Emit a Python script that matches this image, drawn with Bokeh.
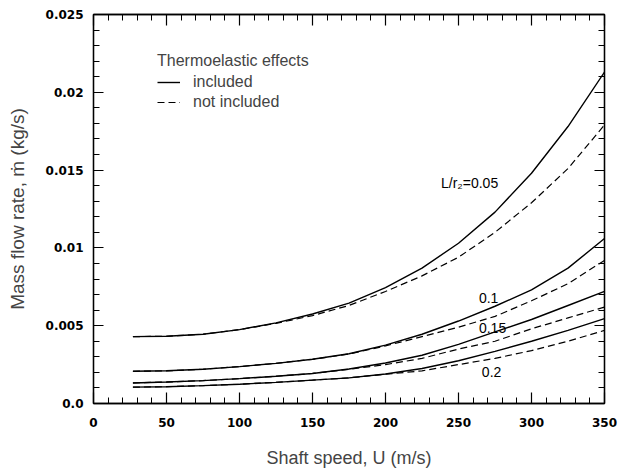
from bokeh.plotting import figure
from bokeh.models import (Range1d, FixedTicker, LinearAxis, Legend, LegendItem, Label)
from bokeh.embed import file_html
from bokeh.resources import INLINE

# ---- data ----
U = [27, 50, 75, 100, 125, 150, 175, 200, 225, 250, 275, 300, 325, 350]

m005_incl = [0.00430, 0.00432, 0.00445, 0.00475, 0.00518, 0.00575, 0.00645, 0.00745, 0.00870, 0.0103, 0.0123, 0.0148, 0.0178, 0.0213]
m005_not  = [0.00430, 0.00432, 0.00445, 0.00475, 0.00515, 0.00565, 0.00630, 0.00720, 0.00820, 0.0094, 0.0110, 0.0129, 0.0151, 0.0179]

m010_incl = [0.00207, 0.00210, 0.00220, 0.00237, 0.00258, 0.00284, 0.00320, 0.00375, 0.00445, 0.00530, 0.00625, 0.00730, 0.00870, 0.0106]
m010_not  = [0.00207, 0.00210, 0.00220, 0.00237, 0.00258, 0.00284, 0.00318, 0.00370, 0.00430, 0.00490, 0.00560, 0.00660, 0.00770, 0.0092]

m015_incl = [0.00132, 0.00138, 0.00147, 0.00160, 0.00175, 0.00193, 0.00222, 0.00260, 0.00310, 0.00380, 0.00460, 0.00540, 0.00630, 0.0072]
m015_not  = [0.00132, 0.00138, 0.00147, 0.00160, 0.00175, 0.00193, 0.00220, 0.00250, 0.00290, 0.00350, 0.00400, 0.00480, 0.00550, 0.0062]

m020_incl = [0.00105, 0.00108, 0.00115, 0.00124, 0.00136, 0.00150, 0.00165, 0.00190, 0.00225, 0.00275, 0.00335, 0.00400, 0.00470, 0.00546]
m020_not  = [0.00105, 0.00108, 0.00115, 0.00124, 0.00136, 0.00150, 0.00165, 0.00188, 0.00210, 0.00250, 0.00290, 0.00340, 0.00400, 0.0047]

x_ticks = [0, 50, 100, 150, 200, 250, 300, 350]
x_minor = list(range(0, 351, 10))
y_ticks = [0.0, 0.005, 0.01, 0.015, 0.02, 0.025]
y_tick_labels = ["0.0", "0.005", "0.01", "0.015", "0.02", "0.025"]
y_minor = [i / 1000 for i in range(0, 26)]

curve_labels = ["L/r\u2082=0.05", "0.1", "0.15", "0.2"]
label_x = [238, 264, 264, 266]
label_y = [0.0142, 0.0068, 0.00483, 0.00203]

# ---- figure ----
p = figure(width=618, height=475, output_backend="svg", toolbar_location=None,
           x_range=Range1d(0, 350), y_range=Range1d(0, 0.025),
           min_border_left=93, min_border_right=14, min_border_top=14, min_border_bottom=72)
p.xgrid.visible = False
p.ygrid.visible = False
p.outline_line_color = "black"
p.outline_line_width = 1.3
p.background_fill_color = "white"
p.border_fill_color = "white"

tick_font = "DejaVu Sans"
lab_font = "Liberation Sans"

def style_axis(ax, major_len, minor_len):
    ax.axis_line_color = "black"
    ax.axis_line_width = 1.3
    ax.major_tick_in = major_len
    ax.major_tick_out = 0
    ax.minor_tick_in = minor_len
    ax.minor_tick_out = 0
    ax.major_tick_line_width = 1.2
    ax.minor_tick_line_width = 1.0
    ax.major_label_text_font = tick_font
    ax.major_label_text_font_style = "bold"
    ax.major_label_text_font_size = "12px"
    ax.major_label_text_color = "black"

xt = FixedTicker(ticks=x_ticks, minor_ticks=x_minor)
yt = FixedTicker(ticks=y_ticks, minor_ticks=y_minor)

xa = p.xaxis[0]
xa.ticker = xt
style_axis(xa, 11, 6)
xa.major_label_standoff = 14
xa.axis_label = "Shaft speed, U (m/s)"
xa.axis_label_text_font = lab_font
xa.axis_label_text_font_style = "normal"
xa.axis_label_text_font_size = "18px"
xa.axis_label_standoff = 18

ya = p.yaxis[0]
ya.ticker = yt
style_axis(ya, 10, 6)
ya.major_label_overrides = {t: s for t, s in zip(y_ticks, y_tick_labels)}
ya.major_label_standoff = 10
ya.axis_label = "Mass flow rate, \u1e41 (kg/s)"
ya.axis_label_text_font = lab_font
ya.axis_label_text_font_style = "normal"
ya.axis_label_text_font_size = "19px"
ya.axis_label_standoff = 15

top = LinearAxis(ticker=FixedTicker(ticks=x_ticks, minor_ticks=x_minor))
style_axis(top, 11, 6)
top.major_label_overrides = {t: "" for t in x_ticks}
top.major_label_standoff = 0
p.add_layout(top, "above")

right = LinearAxis(ticker=FixedTicker(ticks=y_ticks, minor_ticks=y_minor))
style_axis(right, 10, 6)
right.major_label_overrides = {t: "" for t in y_ticks}
right.major_label_standoff = 0
p.add_layout(right, "right")

solid_w = 1.4
dash_w = 1.2
dash = "7 4"

incl = [m005_incl, m010_incl, m015_incl, m020_incl]
notin = [m005_not, m010_not, m015_not, m020_not]
r_solid = []
r_dash = []
for a, b in zip(incl, notin):
    r_dash.append(p.line(U, b, line_color="black", line_width=dash_w, line_dash=dash))
    r_solid.append(p.line(U, a, line_color="black", line_width=solid_w))

for t, x, y in zip(curve_labels, label_x, label_y):
    p.add_layout(Label(x=x, y=y, text=t, text_font=lab_font, text_font_size="14px",
                       text_baseline="middle", text_align="left", text_color="black"))

legend = Legend(items=[LegendItem(label="included", renderers=[r_solid[0]]),
                       LegendItem(label="not included", renderers=[r_dash[0]])],
                title="Thermoelastic effects", location=(64, 291),
                orientation="vertical")
legend.title_text_font = lab_font
legend.title_text_font_style = "normal"
legend.title_text_font_size = "16px"
legend.title_standoff = 2
legend.label_text_font = lab_font
legend.label_text_font_size = "16px"
legend.glyph_width = 23
legend.glyph_height = 20
legend.label_height = 20
legend.label_standoff = 13
legend.spacing = 0
legend.padding = 0
legend.margin = 0
legend.border_line_color = None
legend.background_fill_alpha = 0
p.add_layout(legend, "center")

open("out.html", "w").write(file_html(p, INLINE))
